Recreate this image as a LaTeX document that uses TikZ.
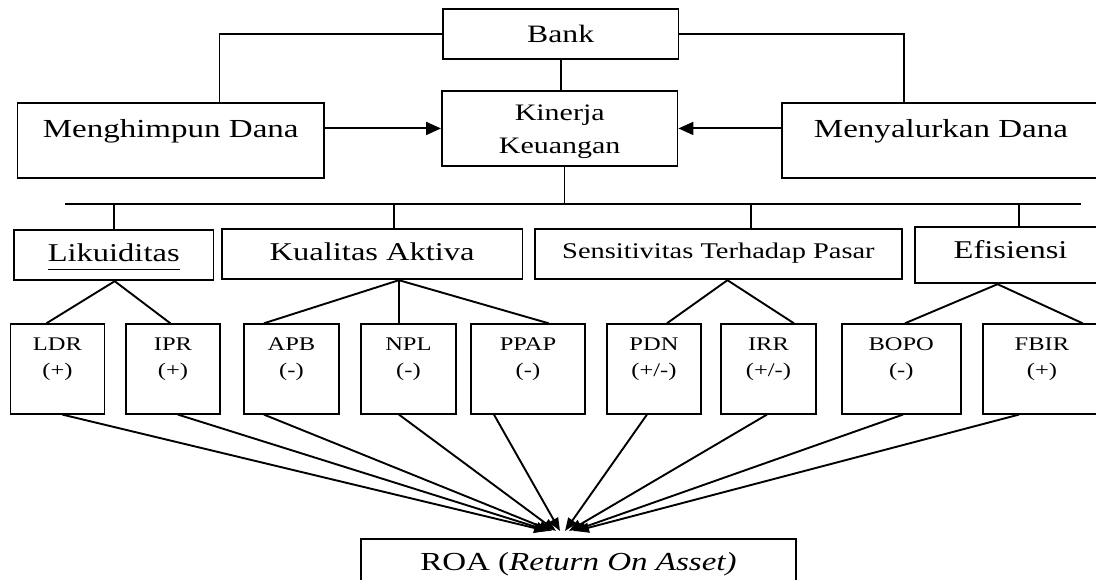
\documentclass[tikz,border=0pt]{standalone}
\usepackage{fontspec}
\setmainfont{Liberation Serif}[FakeStretch=1.27]
\usetikzlibrary{arrows.meta,calc}
\begin{document}
\begin{tikzpicture}[x=1pt,y=-1pt,line width=1.9pt,
  box/.style={draw,rectangle,inner sep=0pt,anchor=north west},
  bigtxt/.style={font=\fontsize{26}{31}\selectfont},
  midtxt/.style={font=\fontsize{25.6}{30}\selectfont},
  cbox/.style={box,minimum height=89.4pt,text height=26.5pt,text depth=62.9pt,font=\fontsize{19.3}{25.7}\selectfont},
  bigarrow/.style={-{Triangle[length=15pt,width=13pt]}},
  roaarrow/.style={-{Triangle[length=13pt,width=10pt]}}]
\useasboundingbox (0,0) rectangle (1096,580);
\clip (0,0) rectangle (1096,580);

% top level
\node[box,minimum width=235.5pt,minimum height=50pt,font=\fontsize{25}{30}\selectfont] (bank) at (442,8.3) {Bank};
\node[box,bigtxt,minimum width=306.5pt,minimum height=75.6pt,text height=35pt,text depth=40.6pt] (mh) at (16.5,101.7) {Menghimpun Dana};
\node[box,minimum width=235.5pt,minimum height=75pt,text height=30pt,text depth=45pt,font=\fontsize{23.6}{33}\selectfont] (kin) at (441,90) {\begin{tabular}[t]{@{}c@{}}Kinerja\\Keuangan\end{tabular}};
\node[box,bigtxt,minimum width=318pt,minimum height=75.6pt,text height=35pt,text depth=40.6pt] (ms) at (781,101.7) {Menyalurkan Dana};

% second level
\node[box,midtxt,minimum width=199.5pt,minimum height=50pt,text height=31.7pt,text depth=18.3pt] (lik) at (13,229.3) {\underline{Likuiditas\rule[-6pt]{0pt}{1pt}}};
\node[box,midtxt,minimum width=300.5pt,minimum height=50.6pt,text height=32.3pt,text depth=18.3pt] (kual) at (221,227.7) {Kualitas Aktiva};
\node[box,font=\fontsize{22.4}{27}\selectfont,minimum width=367pt,minimum height=50.6pt,text height=30pt,text depth=20.6pt] (sens) at (534,227.7) {Sensitivitas Terhadap Pasar};
\node[box,midtxt,minimum width=192pt,minimum height=56.3pt,text height=32pt,text depth=24.3pt] (efis) at (913.6,226) {Efisiensi};

% third level
\node[cbox,minimum width=94pt] (ldr) at (9.5,323.3) {\begin{tabular}[t]{@{}c@{}}LDR\\(+)\end{tabular}};
\node[cbox,minimum width=94pt] (ipr) at (125,323.3) {\begin{tabular}[t]{@{}c@{}}IPR\\(+)\end{tabular}};
\node[cbox,minimum width=95pt] (apb) at (243,323.3) {\begin{tabular}[t]{@{}c@{}}APB\\(-)\end{tabular}};
\node[cbox,minimum width=95pt] (npl) at (360,323.3) {\begin{tabular}[t]{@{}c@{}}NPL\\(-)\end{tabular}};
\node[cbox,minimum width=114pt] (ppap) at (470,323.3) {\begin{tabular}[t]{@{}c@{}}PPAP\\(-)\end{tabular}};
\node[cbox,minimum width=94pt] (pdn) at (606,323.3) {\begin{tabular}[t]{@{}c@{}}PDN\\(+/-)\end{tabular}};
\node[cbox,minimum width=95pt] (irr) at (720,323.3) {\begin{tabular}[t]{@{}c@{}}IRR\\(+/-)\end{tabular}};
\node[cbox,minimum width=119.4pt] (bopo) at (840.6,323.3) {\begin{tabular}[t]{@{}c@{}}BOPO\\(-)\end{tabular}};
\node[cbox,minimum width=118pt] (fbir) at (982,323.3) {\begin{tabular}[t]{@{}c@{}}FBIR\\(+)\end{tabular}};

% bottom
\node[box,bigtxt,minimum width=435pt,minimum height=70pt,text height=31pt,text depth=39pt] (roa) at (360,538.3) {ROA (\textit{Return On Asset)}};

% top connectors
\draw (bank.west) -| ([xshift=48.75pt]mh.north);
\draw (bank.east) -| ([xshift=-37pt]ms.north);
\draw (bank.south) -- (bank.south |- kin.north);
\draw[bigarrow] (mh.east |- kin.west) -- (kin.west);
\draw[bigarrow] (ms.west |- kin.east) -- (kin.east);

% bus
\coordinate (busL) at (65,204.3);
\coordinate (busR) at (1081,204.3);
\draw ([xshift=4.75pt]kin.south) -- ([xshift=4.75pt]kin.south |- busL);
\draw (busL) -- (busR);
\draw (lik.north) -- (lik.north |- busL);
\draw ([xshift=21.75pt]kual.north) -- ([xshift=21.75pt]kual.north |- busL);
\draw ([xshift=32.5pt]sens.north) -- ([xshift=32.5pt]sens.north |- busL);
\draw ([xshift=8.2pt]efis.north) -- ([xshift=8.2pt]efis.north |- busL);

% branches to indicators
\draw ([xshift=-11pt]ldr.north) -- ([xshift=1pt]lik.south) -- ([xshift=-2.6pt]ipr.north);
\draw ([xshift=-27.5pt]apb.north) -- ([xshift=26.75pt]kual.south) -- ([xshift=20.7pt]ppap.north);
\draw ([xshift=26.75pt]kual.south) -- ([xshift=-9.5pt]npl.north);
\draw ([xshift=13pt]pdn.north) -- ([xshift=9pt]sens.south) -- ([xshift=25.5pt]irr.north);
\draw ([xshift=3.7pt]bopo.north) -- ([xshift=-13pt]efis.south) -- ([xshift=40.7pt]fbir.north);

% arrows to ROA
\coordinate (t1) at (547,531);
\coordinate (t2) at (549,531);
\coordinate (t3) at (552,531);
\coordinate (t4) at (556,531);
\coordinate (t5) at (560,531);
\coordinate (t6) at (565,531);
\coordinate (t7) at (569,531);
\coordinate (t8) at (573,531);
\coordinate (t9) at (576,531);
\draw[roaarrow] ([xshift=5pt]ldr.south) -- (t1);
\draw[roaarrow] ([xshift=5pt]ipr.south) -- (t2);
\draw[roaarrow] ([xshift=-27.5pt]apb.south) -- (t3);
\draw[roaarrow] ([xshift=-9.5pt]npl.south) -- (t4);
\draw[roaarrow] ([xshift=-34pt]ppap.south) -- (t5);
\draw[roaarrow] ([xshift=-7pt]pdn.south) -- (t6);
\draw[roaarrow] ([xshift=-1.5pt]irr.south) -- (t7);
\draw[roaarrow] ([xshift=1.7pt]bopo.south) -- (t8);
\draw[roaarrow] ([xshift=-23pt]fbir.south) -- (t9);
\end{tikzpicture}
\end{document}
